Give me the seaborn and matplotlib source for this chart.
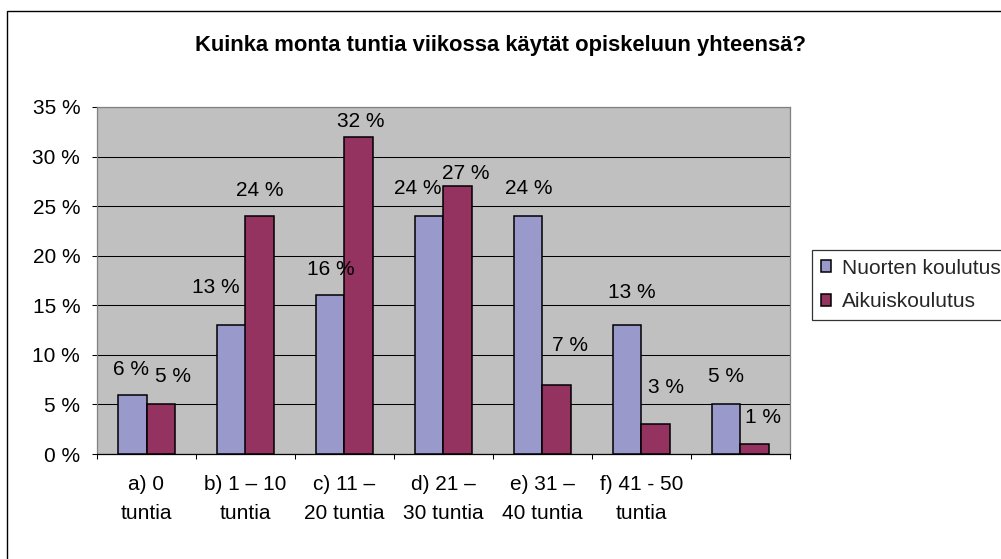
import matplotlib
matplotlib.use("Agg")
import matplotlib.pyplot as plt
import seaborn as sns
import pandas as pd
from matplotlib.patches import Rectangle
from matplotlib.ticker import MultipleLocator, FuncFormatter

# ---------------- data ----------------
title = "Kuinka monta tuntia viikossa käytät opiskeluun yhteensä?"
categories = ["a", "b", "c", "d", "e", "f", "g"]
tick_labels = ["a) 0\ntuntia", "b) 1 – 10\ntuntia", "c) 11 –\n20 tuntia",
               "d) 21 –\n30 tuntia", "e) 31 –\n40 tuntia", "f) 41 - 50\ntuntia", ""]
series = ["Nuorten koulutus", "Aikuiskoulutus"]
nuorten = [6, 13, 16, 24, 24, 13, 5]
aikuis = [5, 24, 32, 27, 7, 3, 1]

# ---------------- layout / style ----------------
colors = {"Nuorten koulutus": "#9999CC", "Aikuiskoulutus": "#943260"}
# manual label offsets (pixels, relative to bar top centre)
label_dx = [[-1, -16, 0, -12, 0, 4, 0], [12, 0, 2, 8, 13, 10, 8]]
label_dy = [[27, 39, 27, 29, 29, 34, 29], [29, 27, 17, 14, 41, 38, 28]]

df = pd.DataFrame({
    "cat": categories * 2,
    "series": [series[0]] * len(categories) + [series[1]] * len(categories),
    "value": nuorten + aikuis,
})

sns.set_theme(style="white")
plt.rcParams["font.family"] = ["Liberation Sans", "DejaVu Sans"]

W, H = 1001, 559
fig = plt.figure(figsize=(W / 100, H / 100), dpi=100)
fig.patch.set_facecolor("white")
ax = fig.add_axes([97 / W, 1 - 454 / H, (790 - 97) / W, (454 - 107) / H])

sns.barplot(data=df, x="cat", y="value", hue="series", order=categories,
            hue_order=series, palette=colors, saturation=1, width=4 / 7,
            edgecolor="black", linewidth=1.1, errorbar=None, legend=False,
            ax=ax, zorder=3)

ax.set_facecolor("#C0C0C0")
ax.set_xlim(-0.5, len(categories) - 0.5)
ax.set_ylim(0, 35)
ax.yaxis.set_major_locator(MultipleLocator(5))
ax.yaxis.set_major_formatter(FuncFormatter(lambda v, p: f"{int(round(v))} %"))
ax.grid(axis="y", color="black", linewidth=0.75)
ax.xaxis.grid(False)
ax.set_axisbelow(True)
ax.set_xlabel("")
ax.set_ylabel("")

fs = 15
ax.set_xticks(range(len(categories)))
ax.set_xticklabels(tick_labels, fontsize=fs, linespacing=1.65)
ax.set_xticks([i - 0.5 for i in range(len(categories) + 1)], minor=True)
ax.tick_params(axis="x", which="major", length=0, pad=15, colors="black")
ax.tick_params(axis="x", which="minor", bottom=True, length=3.6, width=0.75,
               direction="out", color="black")
ax.tick_params(axis="y", which="major", left=True, length=3.6, width=0.75,
               direction="out", color="black", pad=8.5, labelsize=fs,
               labelcolor="black")

for side in ["top", "right", "left"]:
    ax.spines[side].set_color("#808080")
    ax.spines[side].set_linewidth(0.9)
ax.spines["bottom"].set_color("black")
ax.spines["bottom"].set_linewidth(0.9)

# data labels
for si, cont in enumerate(ax.containers):
    for ci, bar in enumerate(cont):
        x = bar.get_x() + bar.get_width() / 2
        y = bar.get_height()
        ax.annotate(f"{int(round(y))} %", xy=(x, y),
                    xytext=(label_dx[si][ci], label_dy[si][ci] - 7),
                    textcoords="offset pixels", ha="center", va="baseline",
                    fontsize=fs, color="black", zorder=5)

# title
fig.text(0.5, 1 - 45 / H, title, ha="center", va="center", fontsize=15.8,
         fontweight="bold", color="black")

# legend
handles = [cont.patches[0] for cont in ax.containers]
leg = fig.legend(handles, series, loc="upper left",
                 bbox_to_anchor=(812 / W, 1 - 250 / H), borderaxespad=0,
                 frameon=True, fancybox=False, edgecolor="black",
                 fontsize=fs, handlelength=0.5, handleheight=0.5,
                 handletextpad=0.5, labelspacing=0.7, borderpad=0.42)
leg.get_frame().set_linewidth(0.9)

# outer chart border
fig.add_artist(Rectangle((7 / W, -0.05), 1.2, 1 - 11 / H + 0.05,
                         transform=fig.transFigure, fill=False,
                         edgecolor="black", linewidth=1.0))

fig.savefig("out.png", dpi=100)
